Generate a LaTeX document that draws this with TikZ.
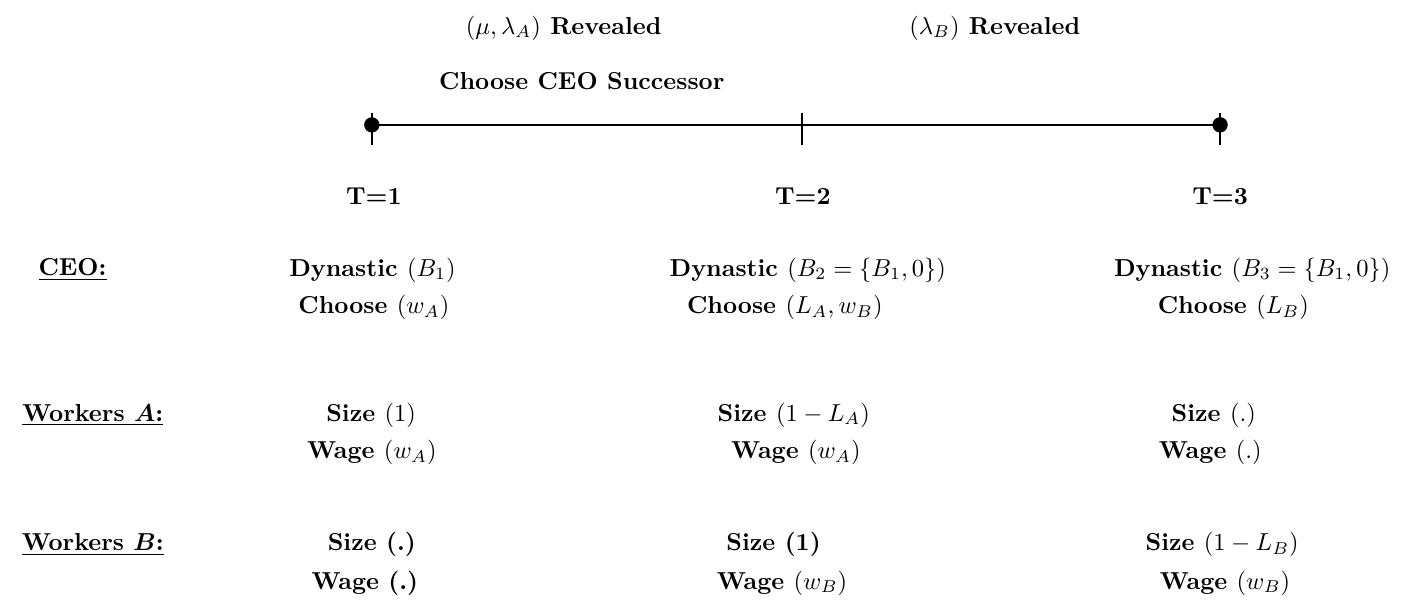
\documentclass[tikz,border=0pt]{standalone}
\usepackage{amsmath,amssymb}
\usepackage{tikz}
\usetikzlibrary{calc}

\begin{document}
\begin{tikzpicture}[every node/.style={font=\bfseries}]
  \useasboundingbox (-5.33,1.79) rectangle (15.04,-6.88);

  % timeline
  \coordinate (t1) at (0,0);
  \coordinate (t2) at (6.17,0);
  \coordinate (t3) at (12.16,0);

  \draw[line width=1pt] (t1) -- (t3);
  \foreach \t in {t1,t2,t3}
    \draw[line width=1pt] ($(\t)+(0,0.17)$) -- ($(\t)+(0,-0.29)$);
  \fill (t1) circle (0.11);
  \fill (t3) circle (0.11);

  \node (revA) at (2.75, 1.39) {$(\mu,\lambda_A)$ Revealed};
  \node (revB) at (8.93, 1.39) {$(\lambda_B)$ Revealed};
  \node (succ) at (3.01, 0.63) {Choose CEO Successor};

  \node (T1) at (0.03, -1.03) {T=1};
  \node (T2) at (6.18, -1.03) {T=2};
  \node (T3) at (12.16, -1.03) {T=3};

  % CEO
  \node (ceo)  at (-4.29, -2.08) {\underline{CEO:}};
  \node (dyn1) at (0.01, -2.08) {Dynastic $(B_1)$};
  \node (cho1) at (0.03, -2.62) {Choose $(w_A)$};
  \node (dyn2) at (6.25, -2.08) {Dynastic $(B_2=\{B_1,0\})$};
  \node (cho2) at (5.92, -2.62) {Choose $(L_A,w_B)$};
  \node (dyn3) at (12.62, -2.08) {Dynastic $(B_3=\{B_1,0\})$};
  \node (cho3) at (12.35, -2.62) {Choose $(L_B)$};

  % workers A
  \node (wkA)    at (-4.00, -4.16) {\underline{Workers $\boldsymbol{A}$:}};
  \node (sizeA1) at (-0.01, -4.16) {Size $(1)$};
  \node (wageA1) at (0.00, -4.70) {Wage $(w_A)$};
  \node (sizeA2) at (6.05, -4.16) {Size $(1-L_A)$};
  \node (wageA2) at (6.08, -4.70) {Wage $(w_A)$};
  \node (sizeA3) at (12.07, -4.16) {Size $(.)$};
  \node (wageA3) at (12.02, -4.70) {Wage $(.)$};

  % workers B
  \node (wkB)    at (-4.00, -6.02) {\underline{Workers $\boldsymbol{B}$:}};
  \node (sizeB1) at (0.00, -6.02) {Size (.)};
  \node (wageB1) at (-0.10, -6.57) {Wage (.)};
  \node (sizeB2) at (5.76, -6.02) {Size (1)};
  \node (wageB2) at (5.88, -6.57) {Wage $(w_B)$};
  \node (sizeB3) at (12.19, -6.02) {Size $(1-L_B)$};
  \node (wageB3) at (12.23, -6.57) {Wage $(w_B)$};
\end{tikzpicture}
\end{document}
